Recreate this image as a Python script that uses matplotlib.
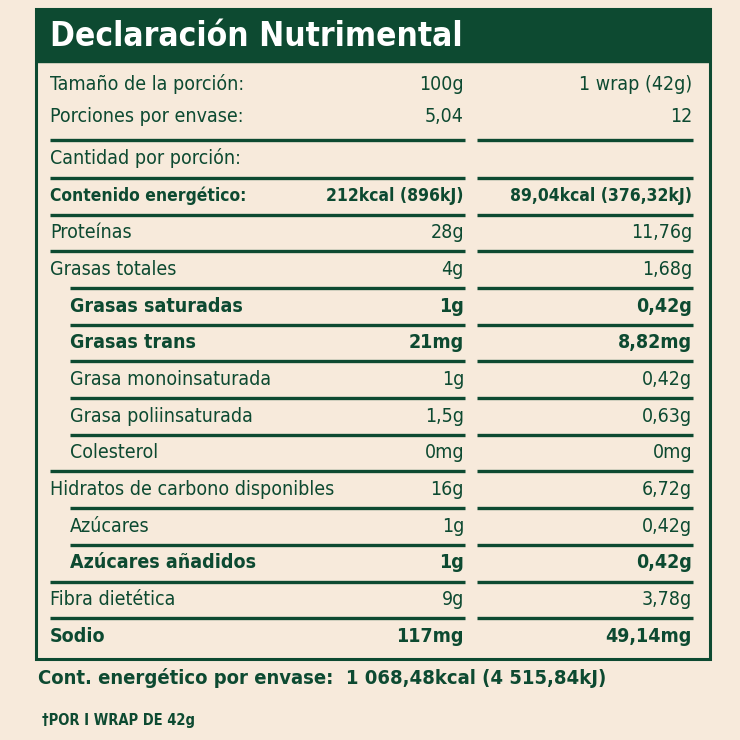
import matplotlib
matplotlib.use("Agg")
import matplotlib.pyplot as plt
from matplotlib.patches import Rectangle
from matplotlib import font_manager

names = {f.name for f in font_manager.fontManager.ttflist}
FAM = ["Liberation Sans Narrow"] if "Liberation Sans Narrow" in names else ["DejaVu Sans"]
ST = "condensed"

title = "Declaración Nutrimental"
header_rows = [("Tamaño de la porción:", "100g", "1 wrap (42g)"),
               ("Porciones por envase:", "5,04", "12")]
labels = ["Contenido energético:", "Proteínas", "Grasas totales", "Grasas saturadas", "Grasas trans",
          "Grasa monoinsaturada", "Grasa poliinsaturada", "Colesterol",
          "Hidratos de carbono disponibles", "Azúcares", "Azúcares añadidos", "Fibra dietética", "Sodio"]
per100 = ["212kcal (896kJ)", "28g", "4g", "1g", "21mg", "1g", "1,5g", "0mg", "16g", "1g", "1g", "9g", "117mg"]
perwrap = ["89,04kcal (376,32kJ)", "11,76g", "1,68g", "0,42g", "8,82mg", "0,42g", "0,63g", "0mg",
           "6,72g", "0,42g", "0,42g", "3,78g", "49,14mg"]
bold = [True, False, False, True, True, False, False, False, False, False, True, False, True]
indent = [False, False, False, True, True, True, True, True, False, True, True, False, False]
footer = "Cont. energético por envase:  1 068,48kcal (4 515,84kJ)"
note = "†POR I WRAP DE 42g"

BG = "#f7eadb"; G = "#0d4a31"
fig = plt.figure(figsize=(7.4, 7.4), dpi=100, facecolor=BG)
ax = fig.add_axes([0, 0, 1, 1]); ax.set_xlim(0, 740); ax.set_ylim(740, 0); ax.axis("off")
ax.set_facecolor(BG)

ax.add_patch(Rectangle((36, 9), 674, 650, fill=False, ec=G, lw=2.2))
ax.add_patch(Rectangle((36, 9), 674, 53, fc=G, ec=G))
ax.text(50, 37, title, color="white", fontsize=24, fontweight="bold", family=FAM,
        fontstretch=ST, va="center")

fs = 14
def row(y, lab, a, b, bd=False, ind=False, size=fs):
    w = "bold" if bd else "normal"
    kw = dict(color=G, fontsize=size, fontweight=w, family=FAM, fontstretch=ST, va="center")
    ax.text(70 if ind else 50, y, lab, **kw)
    ax.text(464, y, a, ha="right", **kw)
    ax.text(692, y, b, ha="right", **kw)

def hline(y, x0=50):
    ax.plot([x0, 465], [y, y], color=G, lw=2.4, solid_capstyle="butt")
    ax.plot([477, 693], [y, y], color=G, lw=2.4, solid_capstyle="butt")

row(84, *header_rows[0]); row(117, *header_rows[1])
hline(140)
ax.text(50, 158, "Cantidad por porción:", color=G, fontsize=fs, family=FAM, fontstretch=ST, va="center")
hline(178)
y = 196
for i in range(len(labels)):
    row(y, labels[i], per100[i], perwrap[i], bold[i], indent[i], 12.5 if i == 0 else fs)
    if i < len(labels) - 1:
        hline(y + 18.5, 70 if indent[i + 1] and i > 0 else 50)
    y += 36.7

ax.text(38, 678, footer, color=G, fontsize=14.5, fontweight="bold", family=FAM,
        fontstretch=ST, va="center")
ax.text(42, 720, note, color=G, fontsize=10.5, fontweight="bold", family=FAM,
        fontstretch=ST, va="center")
fig.savefig("out.png", dpi=100, facecolor=BG)
